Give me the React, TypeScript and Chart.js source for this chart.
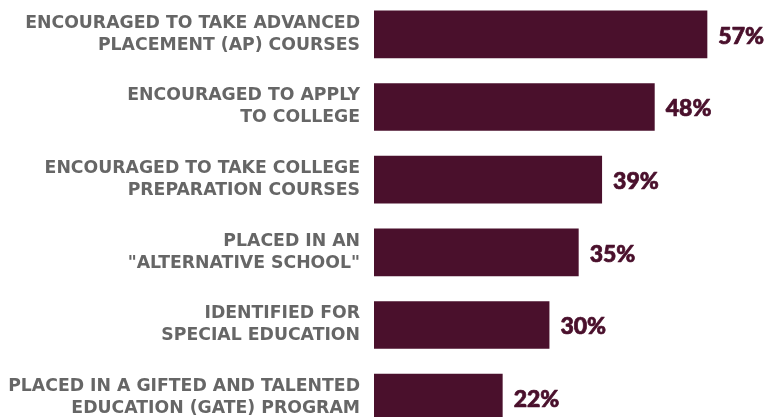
import React, { useEffect, useRef } from 'react';
import { Chart, registerables } from 'chart.js';

Chart.register(...registerables);

const categories: string[][] = [
  ['ENCOURAGED TO TAKE ADVANCED', 'PLACEMENT (AP) COURSES'],
  ['ENCOURAGED TO APPLY', 'TO COLLEGE'],
  ['ENCOURAGED TO TAKE COLLEGE', 'PREPARATION COURSES'],
  ['PLACED IN AN', '"ALTERNATIVE SCHOOL"'],
  ['IDENTIFIED FOR', 'SPECIAL EDUCATION'],
  ['PLACED IN A GIFTED AND TALENTED', 'EDUCATION (GATE) PROGRAM'],
];
const values: number[] = [57, 48, 39, 35, 30, 22];
const valueLabels: string[] = values.map((v) => v + '%');

const BAR_COLOR = '#4a102c';
const LABEL_COLOR = '#666666';

const valueLabelPlugin = {
  id: 'valueLabels',
  afterDatasetsDraw(chart: any) {
    const ctx = chart.ctx;
    const meta = chart.getDatasetMeta(0);
    ctx.save();
    ctx.fillStyle = BAR_COLOR;
    ctx.strokeStyle = BAR_COLOR;
    ctx.lineWidth = 0.7;
    ctx.lineJoin = 'round';
    ctx.font = '900 23px Lato';
    ctx.textAlign = 'left';
    ctx.textBaseline = 'middle';
    meta.data.forEach((bar: any, i: number) => {
      ctx.fillText(valueLabels[i], bar.x + 11, bar.y + 2);
      ctx.strokeText(valueLabels[i], bar.x + 11, bar.y + 2);
    });
    ctx.restore();
  },
};

export default function App() {
  const ref = useRef<HTMLCanvasElement | null>(null);
  useEffect(() => {
    if (!ref.current) return;
    const chart = new Chart(ref.current, {
      type: 'bar',
      data: {
        labels: categories,
        datasets: [
          {
            data: values,
            backgroundColor: BAR_COLOR,
            borderWidth: 0,
            categoryPercentage: 1,
            barPercentage: 0.655,
          },
        ],
      },
      options: {
        indexAxis: 'y',
        responsive: false,
        animation: false,
        layout: { padding: 0 },
        plugins: {
          legend: { display: false },
          tooltip: { enabled: false },
        },
        scales: {
          x: {
            display: false,
            min: 0,
            max: 68.4,
          },
          y: {
            afterFit: (scale: any) => {
              scale.width = 374;
              scale.paddingTop = 0;
              scale.paddingBottom = 0;
            },
            grid: { display: false, drawTicks: false },
            border: { display: false },
            ticks: {
              padding: 14,
              color: LABEL_COLOR,
              font: { family: 'DejaVu Sans', weight: 'bold', size: 17.3, lineHeight: '22px' },
            },
          },
        },
      },
      plugins: [valueLabelPlugin],
    });
    return () => chart.destroy();
  }, []);

  return (
    <div
      style={{
        position: 'fixed',
        left: 0,
        top: 0,
        width: 774,
        height: 417,
        overflow: 'hidden',
        background: '#ffffff',
      }}
    >
      <canvas
        ref={ref}
        width={774}
        height={436}
        style={{ position: 'absolute', left: 0, top: -2, width: 774, height: 436 }}
      />
    </div>
  );
}
